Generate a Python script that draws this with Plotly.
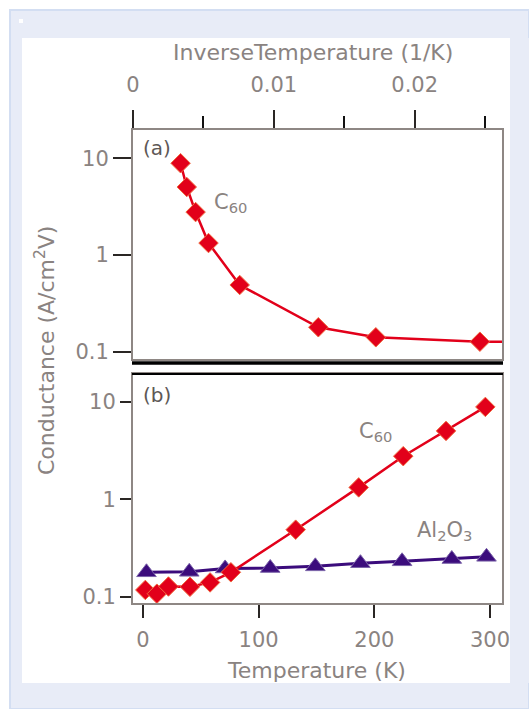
import plotly.graph_objects as go

# ---- data ----
T_c60 = [2, 12, 22, 40.6, 58, 76, 132, 186.5, 225, 262, 296]
G_c60 = [0.118, 0.108, 0.128, 0.127, 0.141, 0.179, 0.49, 1.33, 2.78, 5.05, 8.9]

T_al2o3 = [3, 40, 71, 110, 149, 188, 224, 267, 297]
G_al2o3 = [0.179, 0.181, 0.196, 0.198, 0.206, 0.222, 0.232, 0.245, 0.258]

inv_ticks = [0, 0.01, 0.02]
inv_ticktext = ["0", "0.01", "0.02"]
T_ticks = [0, 100, 200, 300]
G_ticks = [0.1, 1, 10]
G_ticktext = ["0.1", "1", "10"]

inv_T_c60 = [1.0 / t for t in T_c60]

W, H = 529, 709
def px(x):
    return x / W
def py(y):
    return 1 - y / H

RED = "#e2001a"
RED_EDGE = "#f06a40"
PURPLE = "#3b0c7c"
AXIS = "#8e8784"
TICK = "#2a2624"
TXT = "#8a8381"
FONT = "DejaVu Sans"
BLUE = "#e8ecf7"

fig = go.Figure()

# panel (a): conductance vs inverse temperature
fig.add_trace(go.Scatter(
    x=inv_T_c60, y=G_c60, xaxis="x", yaxis="y", mode="lines+markers",
    line=dict(color=RED, width=2.5),
    marker=dict(symbol="diamond", size=15, color=RED, line=dict(color=RED_EDGE, width=1)),
    showlegend=False))

# panel (b): conductance vs temperature
fig.add_trace(go.Scatter(
    x=T_al2o3, y=G_al2o3, xaxis="x2", yaxis="y2", mode="lines+markers",
    line=dict(color=PURPLE, width=3),
    marker=dict(symbol="triangle-up", size=17, color=PURPLE, line=dict(color="#7a62a8", width=1)),
    showlegend=False))
fig.add_trace(go.Scatter(
    x=T_c60, y=G_c60, xaxis="x2", yaxis="y2", mode="lines+markers",
    line=dict(color=RED, width=2.5),
    marker=dict(symbol="diamond", size=15, color=RED, line=dict(color=RED_EDGE, width=1)),
    showlegend=False))

tickfont = dict(family=FONT, size=21, color=TXT)
common = dict(showline=True, linecolor=AXIS, linewidth=2, mirror=True, showgrid=False,
              zeroline=False, ticks="outside", tickcolor=TICK, tickwidth=2,
              tickfont=tickfont, automargin=False)

fig.update_layout(
    width=W, height=H, autosize=False,
    margin=dict(l=0, r=0, t=0, b=0, pad=0),
    template="none",
    paper_bgcolor="white", plot_bgcolor="rgba(0,0,0,0)",
    xaxis=dict(domain=[px(133), px(502)], anchor="y", side="top",
               range=[0, 0.0262], tickmode="array", tickvals=inv_ticks, ticktext=inv_ticktext,
               ticklen=18, ticklabelstandoff=10,
               minor=dict(tickvals=[0.005, 0.015, 0.025], ticks="outside",
                          ticklen=12, tickcolor="#111", tickwidth=2),
               **common),
    yaxis=dict(domain=[py(358.5), py(130)], anchor="x", type="log",
               range=[-1.07, 1.293], tickmode="array", tickvals=G_ticks, ticktext=G_ticktext,
               ticklen=18, **common),
    xaxis2=dict(domain=[px(133), px(502)], anchor="y2",
                range=[-8.65, 310.4], tickmode="array", tickvals=T_ticks,
                ticklen=13, ticklabelstandoff=4, **common),
    yaxis2=dict(domain=[py(603), py(374)], anchor="x2", type="log",
                range=[-1.062, 1.287], tickmode="array", tickvals=G_ticks, ticktext=G_ticktext,
                ticklen=11, **common),
)

shapes = [
    # light-blue frame
    dict(type="rect", xref="paper", yref="paper", x0=px(10), x1=px(529), y0=py(709), y1=py(10),
         fillcolor=BLUE, line=dict(color="#d3def2", width=2), layer="below"),
    # white panel
    dict(type="rect", xref="paper", yref="paper", x0=px(22), x1=px(510), y0=py(683), y1=py(38),
         fillcolor="white", line=dict(width=0), layer="below"),
    # tiny white mark
    dict(type="rect", xref="paper", yref="paper", x0=px(19), x1=px(23), y0=py(23), y1=py(19),
         fillcolor="white", line=dict(width=0), layer="below"),
    # black separators between the panels
    dict(type="line", xref="paper", yref="paper", x0=px(132), x1=px(503), y0=py(363), y1=py(363),
         line=dict(color="black", width=3.5), layer="above"),
    dict(type="line", xref="paper", yref="paper", x0=px(132), x1=px(503), y0=py(374), y1=py(374),
         line=dict(color="black", width=2), layer="above"),
    # right blue strip that clips the last tick label
    dict(type="rect", xref="paper", yref="paper", x0=px(510), x1=px(529), y0=py(683), y1=py(38),
         fillcolor=BLUE, line=dict(width=0), layer="above"),
]
fig.update_layout(shapes=shapes)

def ann(text, x, y, xanchor="center", size=22, color=TXT, angle=0):
    return dict(text=text, xref="paper", yref="paper", x=px(x), y=py(y), xanchor=xanchor,
                yanchor="middle", showarrow=False, textangle=angle,
                font=dict(family=FONT, size=size, color=color))

fig.update_layout(annotations=[
    ann("InverseTemperature (1/K)", 313, 53),
    ann("Temperature (K)", 316, 670),
    ann("Conductance (A/cm<sup>2</sup>V)", 45, 351, angle=-90),
    ann("(a)", 141, 148, xanchor="left", size=20, color="#5e5856"),
    ann("(b)", 141, 395, xanchor="left", size=20, color="#5e5856"),
    ann("C<sub>60</sub>", 212, 203, xanchor="left", size=21),
    ann("C<sub>60</sub>", 357, 432, xanchor="left", size=21),
    ann("Al<sub>2</sub>O<sub>3</sub>", 415, 531, xanchor="left", size=21),
])

fig.write_html("out.html", config={"displayModeBar": False},
               post_script="document.body.style.margin='0';")
